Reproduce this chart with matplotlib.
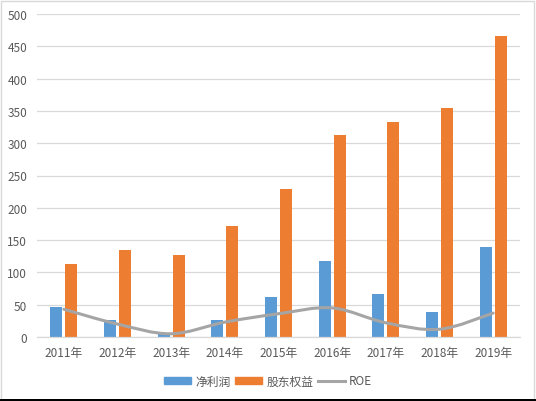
import numpy as np
import matplotlib
matplotlib.use("Agg")
from matplotlib import pyplot as plt
from matplotlib.path import Path
from matplotlib.patches import PathPatch, Rectangle
from matplotlib.lines import Line2D

plt.rcParams['font.family'] = ['Noto Sans CJK SC', 'DejaVu Sans']

# data
years = ['2011年', '2012年', '2013年', '2014年', '2015年', '2016年', '2017年', '2018年', '2019年']
netProfit = [46, 26, 5, 26, 62, 118, 67, 39, 139]
equity = [113, 135, 127, 172, 229, 313, 333, 354, 466]
roe = [43, 20, 5, 23, 36, 45, 22, 12, 37]

blue = '#5B9BD5'
orange = '#ED7D31'
gray = '#A5A5A5'
textColor = '#595959'

W, H = 536, 402
fig = plt.figure(figsize=(W / 100, H / 100), dpi=100)
ax = fig.add_axes([37 / W, 1 - 338 / H, (520 - 37) / W, (338 - 15) / H])

x = np.arange(len(years))
ax.bar(x - 0.14, netProfit, width=0.225, color=blue, zorder=2)
ax.bar(x + 0.14, equity, width=0.225, color=orange, zorder=2)

# smooth ROE line (Catmull-Rom segments turned into cubic Bezier curves)
pts = np.column_stack([x, roe]).astype(float)
ext = np.vstack([pts[0], pts, pts[-1]])
verts = [tuple(pts[0])]
codes = [Path.MOVETO]
for i in range(len(pts) - 1):
    p0, p1, p2, p3 = ext[i], ext[i + 1], ext[i + 2], ext[i + 3]
    c1 = p1 + (p2 - p0) / 6
    c2 = p2 - (p3 - p1) / 6
    verts += [tuple(c1), tuple(c2), tuple(p2)]
    codes += [Path.CURVE4] * 3
ax.add_patch(PathPatch(Path(verts, codes), facecolor='none', edgecolor=gray,
                       lw=2.2, capstyle='round', joinstyle='round', zorder=3))

ax.set_xlim(-0.5, len(years) - 0.5)
ax.set_ylim(0, 500)
ax.set_yticks(np.arange(0, 501, 50))
ax.set_xticks(x)
ax.set_xticklabels(years)
ax.yaxis.grid(True, color='#D9D9D9', lw=0.9, zorder=0)
ax.set_axisbelow(True)
for s in ['top', 'right', 'left']:
    ax.spines[s].set_visible(False)
ax.spines['bottom'].set_color('#D9D9D9')
ax.spines['bottom'].set_linewidth(0.9)
ax.tick_params(axis='both', length=0, labelsize=8.5, colors=textColor)
ax.tick_params(axis='y', pad=7)
ax.tick_params(axis='x', pad=6.5)

handles = [Rectangle((0, 0), 1, 1, color=blue),
           Rectangle((0, 0), 1, 1, color=orange),
           Line2D([0], [0], color=gray, lw=2.2)]
fig.legend(handles, ['净利润', '股东权益', 'ROE'], loc='center',
           bbox_to_anchor=(0.5, 1 - 382 / H), ncol=3, frameon=False,
           fontsize=8.5, labelcolor=textColor, handlelength=2.3,
           handleheight=0.6, handletextpad=0.35, columnspacing=0.4)

# chart frame
fig.patches.append(Rectangle((0.5 / W, 1.5 / H), 533 / W, 399 / H, transform=fig.transFigure,
                             fill=False, edgecolor='#D9D9D9', lw=1))
fig.patches.append(Rectangle((0, 0), 1, 2 / H, transform=fig.transFigure,
                             facecolor='#000000', edgecolor='none'))

fig.savefig('out.png', dpi=100)
